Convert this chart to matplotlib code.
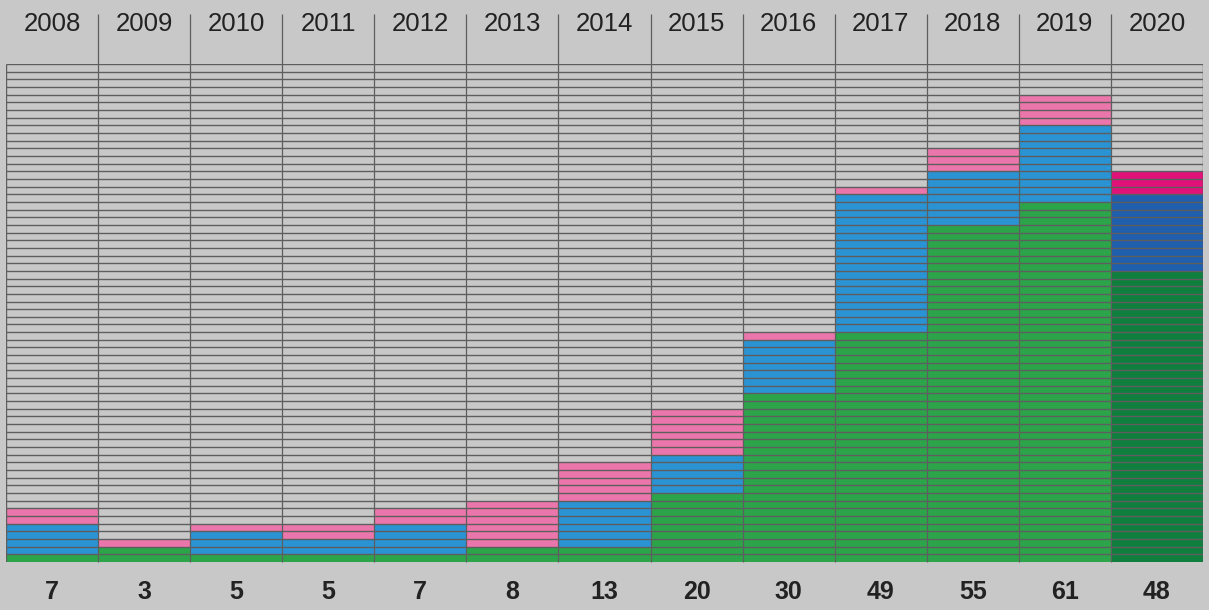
import matplotlib
matplotlib.use("Agg")
import matplotlib.pyplot as plt
import numpy as np

years = ["2008", "2009", "2010", "2011", "2012", "2013", "2014",
         "2015", "2016", "2017", "2018", "2019", "2020"]
green = [1, 2, 1, 1, 1, 2, 2, 9, 22, 30, 44, 47, 38]
blue = [4, 0, 3, 2, 4, 0, 6, 5, 7, 18, 7, 10, 10]
pink = [2, 1, 1, 2, 2, 6, 5, 6, 1, 1, 3, 4, 3]
totals = ["7", "3", "5", "5", "7", "8", "13", "20", "30", "49", "55", "61", "48"]

green_c = ["#2ca44a"] * 12 + ["#0e7f3d"]
blue_c = ["#2a93d4"] * 12 + ["#1f5fae"]
pink_c = ["#eb76ab"] * 12 + ["#e0127a"]

bg = "#c8c8c8"
line_c = "#5e5e5e"

W, H = 1209, 610
fig = plt.figure(figsize=(W / 100, H / 100), dpi=100, facecolor=bg)
x0, x1, yb, yt = 6, 1203, 562, 64
ax = fig.add_axes([x0 / W, 1 - yb / H, (x1 - x0) / W, (yb - yt) / H])
ax.set_facecolor(bg)

ymax = 65
n = len(years)
x = np.arange(n)
g = np.array(green)
b = np.array(blue)
p = np.array(pink)
ax.bar(x, g, width=1.0, align="edge", color=green_c, linewidth=0, zorder=1)
ax.bar(x, b, width=1.0, bottom=g, align="edge", color=blue_c, linewidth=0, zorder=1)
ax.bar(x, p, width=1.0, bottom=g + b, align="edge", color=pink_c, linewidth=0, zorder=1)

ax.set_xlim(0, n)
ax.set_ylim(0, ymax)

# horizontal unit lines
ax.hlines(np.arange(1, ymax + 1), 0, n, colors=line_c, linewidth=1.0, zorder=3)

unit_px = (yb - yt) / ymax
top_ext = (yb - 14) / unit_px
# column dividers, extending up into the header
ax.vlines(np.arange(1, n), 0, top_ext, colors=line_c, linewidth=0.9,
          zorder=3, clip_on=False)
ax.vlines([0, n], 0, ymax, colors=line_c, linewidth=1.0, zorder=3)

for s in ax.spines.values():
    s.set_visible(False)
ax.set_xticks([])
ax.set_yticks([])

year_y = (yb - 24) / unit_px
tot_y = (yb - 592) / unit_px
for i in range(n):
    ax.text(i + 0.5, year_y, years[i], ha="center", va="center",
            fontsize=18.5, family="Liberation Sans", color="#222222", clip_on=False)
    ax.text(i + 0.5, tot_y, totals[i], ha="center", va="center",
            fontsize=18, family="Liberation Sans", fontweight="bold",
            color="#222222", clip_on=False)

fig.savefig("out.png", dpi=100, facecolor=bg)
